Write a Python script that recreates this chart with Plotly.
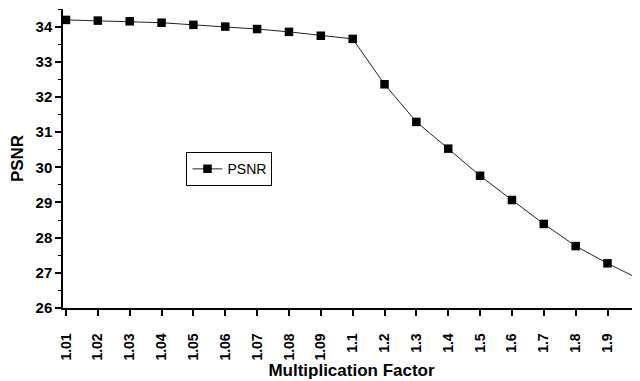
import plotly.graph_objects as go

factors = ["1.01", "1.02", "1.03", "1.04", "1.05", "1.06", "1.07", "1.08", "1.09",
           "1.1", "1.2", "1.3", "1.4", "1.5", "1.6", "1.7", "1.8", "1.9", "2"]
psnr = [34.19, 34.17, 34.15, 34.11, 34.05, 34.00, 33.93, 33.85, 33.74,
        33.65, 32.36, 31.29, 30.53, 29.76, 29.07, 28.39, 27.76, 27.27, 26.82]
y_ticks = [26, 27, 28, 29, 30, 31, 32, 33, 34]

FONT = "Liberation Sans, Arial, sans-serif"

fig = go.Figure()
fig.add_trace(go.Scatter(
    x=list(range(len(factors))), y=psnr, mode="lines+markers", name="PSNR",
    line=dict(color="#222222", width=1),
    marker=dict(symbol="square", size=8.5, color="black"),
))

fig.update_layout(
    width=640, height=381,
    margin=dict(l=55, r=8, t=1, b=81),
    paper_bgcolor="white", plot_bgcolor="white",
    font=dict(family=FONT, color="black"),
    showlegend=True,
    legend=dict(x=0.214, y=0.464, xanchor="left", yanchor="middle",
                bordercolor="black", borderwidth=1, bgcolor="white",
                font=dict(size=14), itemwidth=30, tracegroupgap=0),
)
fig.update_xaxes(
    automargin=False,
    range=[-0.094, 18.02],
    tickmode="array", tickvals=list(range(len(factors))), ticktext=factors,
    tickangle=-90, tickfont=dict(size=14, family=FONT, weight="bold"),
    ticks="outside", ticklen=6, tickwidth=1.5, tickcolor="black",
    ticklabelstandoff=12,
    showline=True, linecolor="black", linewidth=1.5, showgrid=False, zeroline=False,
    title=dict(text="<b>Multiplication Factor</b>", font=dict(size=17), standoff=3),
)
fig.update_yaxes(
    automargin=False,
    range=[26, 34.5],
    tickmode="array", tickvals=y_ticks,
    tickfont=dict(size=15, family=FONT, weight="bold"),
    ticks="outside", ticklen=6, tickwidth=1.5, tickcolor="black",
    minor=dict(ticks="outside", ticklen=3, tickwidth=1, tickcolor="black", dtick=0.5, tick0=26),
    showline=True, linecolor="black", linewidth=1.5, showgrid=False, zeroline=False,
    title=dict(text="<b>PSNR</b>", font=dict(size=17)),
)

fig.write_html("out.html")
